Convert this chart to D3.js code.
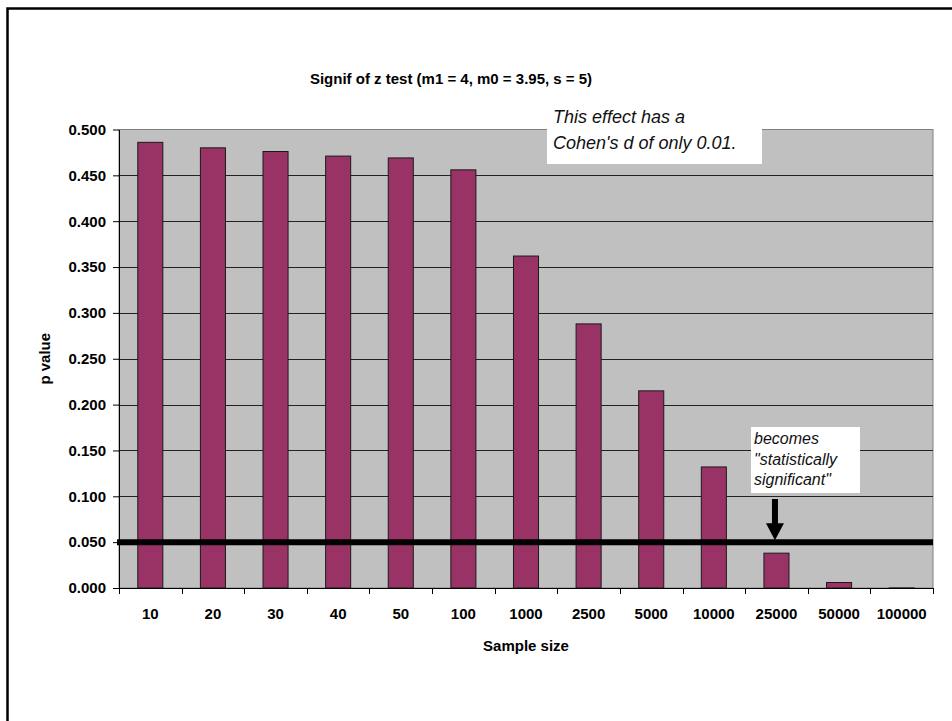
<!DOCTYPE html>
<html>
<head>
<meta charset="utf-8">
<script src="https://cdn.jsdelivr.net/npm/d3@7"></script>
<style>
  html, body { margin: 0; padding: 0; background: #ffffff; }
  svg { display: block; font-family: "Liberation Sans", Arial, sans-serif; }
</style>
</head>
<body>
<svg id="chart" width="952" height="721"></svg>
<script>
// Sample sizes along the x axis
const categories = ["10", "20", "30", "40", "50", "100", "1000", "2500", "5000", "10000", "25000", "50000", "100000"];
// One-tailed p value of the z test for each sample size
const pValues = [0.486, 0.480, 0.476, 0.471, 0.469, 0.456, 0.362, 0.288, 0.215, 0.132, 0.038, 0.006, 0.0001];
// Y axis ticks
const yTicks = [0, 0.05, 0.10, 0.15, 0.20, 0.25, 0.30, 0.35, 0.40, 0.45, 0.50];
// Significance threshold
const alpha = [0.05];

const titleText = "Signif of z test (m1 = 4, m0 = 3.95, s = 5)";
const xTitle = "Sample size";
const yTitle = "p value";
const noteEffect = ["This effect has a", "Cohen's d of only 0.01."];
const noteSignif = ["becomes", "\"statistically", "significant\""];

const svg = d3.select("#chart");
const plot = { left: 119, right: 933, top: 129.5, bottom: 588 };

// Outer frame
svg.append("rect")
  .attr("x", 7.5).attr("y", 8.5)
  .attr("width", 1000).attr("height", 800)
  .attr("fill", "none").attr("stroke", "#000").attr("stroke-width", 2.5);

const x = d3.scaleBand()
  .domain(categories)
  .range([plot.left, plot.right])
  .paddingInner(0.6).paddingOuter(0.3);
const xSlot = d3.scaleBand()
  .domain(categories)
  .range([plot.left, plot.right])
  .padding(0);
const y = d3.scaleLinear().domain([0, 0.5]).range([plot.bottom, plot.top]);

// Plot area background
svg.append("rect")
  .attr("x", plot.left).attr("y", plot.top)
  .attr("width", plot.right - plot.left).attr("height", plot.bottom - plot.top)
  .attr("fill", "#c0c0c0").attr("stroke", "#808080").attr("stroke-width", 1);

// Horizontal gridlines
svg.append("g").selectAll("line")
  .data(yTicks.filter(d => d > 0 && d < 0.5))
  .join("line")
  .attr("x1", plot.left).attr("x2", plot.right)
  .attr("y1", d => Math.round(y(d)) + 0.5).attr("y2", d => Math.round(y(d)) + 0.5)
  .attr("stroke", "#222").attr("stroke-width", 1);

// Bars
svg.append("g").selectAll("rect")
  .data(categories.map((c, i) => ({ c, v: pValues[i] })))
  .join("rect")
  .attr("x", d => x(d.c))
  .attr("y", d => y(d.v))
  .attr("width", x.bandwidth())
  .attr("height", d => y(0) - y(d.v))
  .attr("fill", "#993366")
  .attr("stroke", "#1a1a1a").attr("stroke-width", 1);

// Y axis
const yAxis = d3.axisLeft(y)
  .tickValues(yTicks)
  .tickFormat(d3.format(".3f"))
  .tickSizeInner(6).tickSizeOuter(0).tickPadding(7);
const yg = svg.append("g")
  .attr("transform", `translate(${plot.left},0)`)
  .call(yAxis);
yg.select(".domain").attr("stroke", "#000");
yg.selectAll(".tick line").attr("stroke", "#000");
yg.selectAll(".tick text")
  .attr("font-size", 15).attr("font-weight", "bold").attr("fill", "#000")
  .attr("font-family", "Liberation Sans, Arial, sans-serif");

// X axis: labels centred on each category, ticks on category boundaries
const xAxis = d3.axisBottom(x).tickSize(0).tickPadding(20);
const xg = svg.append("g")
  .attr("transform", `translate(0,${plot.bottom})`)
  .call(xAxis);
xg.select(".domain").remove();
xg.selectAll(".tick text")
  .attr("font-size", 15).attr("font-weight", "bold").attr("fill", "#000")
  .attr("font-family", "Liberation Sans, Arial, sans-serif");

const bounds = categories.map(c => xSlot(c)).concat([xSlot(categories[categories.length - 1]) + xSlot.step()]);
svg.append("line")
  .attr("x1", plot.left).attr("x2", plot.right)
  .attr("y1", plot.bottom + 0.5).attr("y2", plot.bottom + 0.5)
  .attr("stroke", "#000").attr("stroke-width", 1);
svg.append("g").selectAll("line")
  .data(bounds)
  .join("line")
  .attr("x1", d => Math.round(d) + 0.5).attr("x2", d => Math.round(d) + 0.5)
  .attr("y1", plot.bottom).attr("y2", plot.bottom + 6)
  .attr("stroke", "#000").attr("stroke-width", 1);

// Significance threshold line
svg.append("g").selectAll("line")
  .data(alpha)
  .join("line")
  .attr("x1", plot.left - 2).attr("x2", plot.right)
  .attr("y1", d => y(d)).attr("y2", d => y(d))
  .attr("stroke", "#000").attr("stroke-width", 6);

// Titles
svg.append("text")
  .attr("x", 451).attr("y", 84)
  .attr("text-anchor", "middle")
  .attr("font-size", 15).attr("font-weight", "bold")
  .text(titleText);
svg.append("text")
  .attr("x", (plot.left + plot.right) / 2).attr("y", 651)
  .attr("text-anchor", "middle")
  .attr("font-size", 15).attr("font-weight", "bold")
  .text(xTitle);
svg.append("text")
  .attr("transform", `translate(50,${(plot.top + plot.bottom) / 2}) rotate(-90)`)
  .attr("text-anchor", "middle")
  .attr("font-size", 15).attr("font-weight", "bold")
  .text(yTitle);

// Note: effect size
svg.append("rect")
  .attr("x", 547).attr("y", 98).attr("width", 215).attr("height", 66)
  .attr("fill", "#fff");
svg.append("g").selectAll("text")
  .data(noteEffect)
  .join("text")
  .attr("x", 553).attr("y", (d, i) => 123 + i * 26)
  .attr("font-size", 18).attr("font-style", "italic").attr("fill", "#111")
  .text(d => d);

// Note: significance, with arrow pointing at the 25000 bar
svg.append("rect")
  .attr("x", 751).attr("y", 427).attr("width", 109).attr("height", 66)
  .attr("fill", "#fff");
svg.append("g").selectAll("text")
  .data(noteSignif)
  .join("text")
  .attr("x", 754).attr("y", (d, i) => 444 + i * 20.5)
  .attr("font-size", 16).attr("font-style", "italic").attr("fill", "#111")
  .text(d => d);

const ax = x("25000") + x.bandwidth() / 2 - 1.5;
const tipY = y(alpha[0]) - 2;
svg.append("line")
  .attr("x1", ax).attr("x2", ax)
  .attr("y1", 499).attr("y2", tipY - 14)
  .attr("stroke", "#000").attr("stroke-width", 6);
svg.append("path")
  .attr("d", `M${ax - 9},${tipY - 17} L${ax + 9},${tipY - 17} L${ax},${tipY} Z`)
  .attr("fill", "#000");
</script>
</body>
</html>
